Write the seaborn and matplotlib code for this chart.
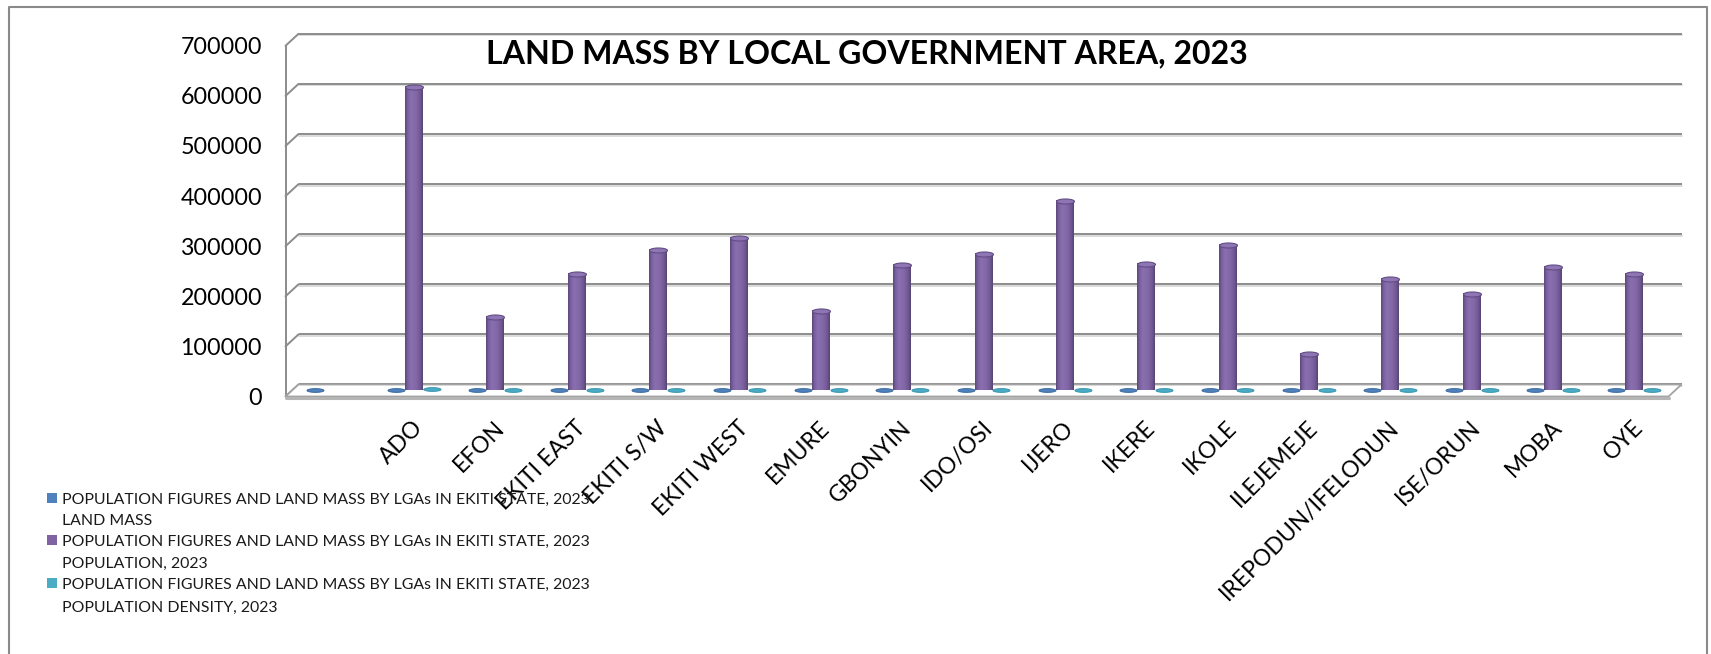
import numpy as np
import pandas as pd
import matplotlib
matplotlib.use("Agg")
import matplotlib.pyplot as plt
import matplotlib.transforms as mtrans
from matplotlib.patches import Polygon, Rectangle
from matplotlib.lines import Line2D
from matplotlib.colors import LinearSegmentedColormap, to_hex
import seaborn as sns

# ---------------- data ----------------
lgas = ["", "ADO", "EFON", "EKITI EAST", "EKITI S/W", "EKITI WEST", "EMURE",
        "GBONYIN", "IDO/OSI", "IJERO", "IKERE", "IKOLE", "ILEJEMEJE",
        "IREPODUN/IFELODUN", "ISE/ORUN", "MOBA", "OYE"]
land_mass = [0, 293, 232, 325, 382, 355, 290, 397, 295, 370, 264, 321, 95,
             221, 198, 216, 543]
population = [np.nan, 606000, 147000, 233000, 280000, 304000, 159000, 251000,
              272000, 378000, 252000, 290000, 73500, 223000, 193000, 246500,
              233000]
density = [np.nan, 2068, 634, 717, 733, 856, 548, 632, 922, 1022, 955, 903,
           774, 1009, 975, 1141, 429]
series_names = [
    "POPULATION FIGURES AND LAND MASS BY LGAs IN EKITI STATE, 2023\nLAND MASS",
    "POPULATION FIGURES AND LAND MASS BY LGAs IN EKITI STATE, 2023\nPOPULATION, 2023",
    "POPULATION FIGURES AND LAND MASS BY LGAs IN EKITI STATE, 2023\nPOPULATION DENSITY, 2023",
]
series_colors = ["#4F81BD", "#8064A2", "#4BACC6"]
edge_colors = ["#3A6A9C", "#624C84", "#3793AC"]
yticks = [0, 100000, 200000, 300000, 400000, 500000, 600000, 700000]
title = "LAND MASS BY LOCAL GOVERNMENT AREA, 2023"

# ---------------- style ----------------
sns.set_style("white")
plt.rcParams["font.family"] = ["Lato", "DejaVu Sans"]

W, H, DPI = 1711, 654, 100
fig = plt.figure(figsize=(W / DPI, H / DPI), dpi=DPI)
fig.patch.set_facecolor("white")


def fx(px):
    return px / W


def fy(py):
    return 1 - py / H


ax_left, ax_right, ax_top, ax_bot = 292, 1675, 39.8, 390.5
ax = fig.add_axes([fx(ax_left), fy(ax_bot), (ax_right - ax_left) / W,
                   (ax_bot - ax_top) / H])

rows = []
for name, vals in zip(series_names, [land_mass, population, density]):
    for lga, v in zip(lgas, vals):
        if v is not None and np.isfinite(v):
            rows.append({"LGA": lga, "Series": name, "Value": v})
df = pd.DataFrame(rows)

sns.barplot(data=df, x="LGA", y="Value", hue="Series", order=lgas,
            hue_order=series_names, palette=series_colors, saturation=1,
            width=0.66, errorbar=None, legend=False, ax=ax, zorder=3,
            linewidth=0)

# identify containers by colour
cont_by_series = {}
for cont in ax.containers:
    if len(cont.patches) == 0:
        continue
    col = to_hex(cont.patches[0].get_facecolor())
    for i, c in enumerate(series_colors):
        if to_hex(c) == col:
            cont_by_series[i] = cont

# cylinder shading for the population bars
cyl = LinearSegmentedColormap.from_list(
    "cyl", [(0.0, "#594676"), (0.14, "#7A60A0"), (0.35, "#8A70B0"),
            (0.65, "#8266A6"), (0.87, "#6E5791"), (1.0, "#564370")])
grad = np.linspace(0, 1, 64).reshape(1, -1)
if 1 in cont_by_series:
    for bar in cont_by_series[1].patches:
        h = bar.get_height()
        if not np.isfinite(h) or h <= 0:
            continue
        x0, w = bar.get_x(), bar.get_width()
        ax.imshow(grad, extent=[x0, x0 + w, 0, h], aspect="auto", cmap=cyl,
                  interpolation="bicubic", zorder=3.2)

# elliptical caps / discs
t = np.linspace(0, 2 * np.pi, 80)
cap_ell = np.column_stack([np.cos(t), 0.28 * np.sin(t)])
disc_ell = np.column_stack([np.cos(t), 0.22 * np.sin(t)])
cap_faces = ["#4F81BD", "#8E76B4", "#4BACC6"]
for i, cont in cont_by_series.items():
    xs = [b.get_x() + b.get_width() / 2 for b in cont.patches]
    hs = [b.get_height() for b in cont.patches]
    if i == 1:
        ax.scatter(xs, hs, marker=cap_ell, s=12.9 ** 2, c=cap_faces[i],
                   edgecolors=edge_colors[i], linewidths=0.8, zorder=4,
                   clip_on=False)
    else:
        ax.scatter(xs, hs, marker=disc_ell, s=12.2 ** 2, c=cap_faces[i],
                   edgecolors=edge_colors[i], linewidths=0.7, zorder=4,
                   clip_on=False)

ax.set_xlim(-0.5, len(lgas) - 0.5)
ax.set_ylim(0, 700000)
ax.set_xlabel("")
ax.set_ylabel("")
for s in ax.spines.values():
    s.set_visible(False)
ax.grid(False)
ax.patch.set_alpha(0)

# ---------------- pseudo 3D walls ----------------
DX, DY = 6.5 / DPI, 6.0 / DPI
back = mtrans.ScaledTranslation(DX, DY, fig.dpi_scale_trans)
front = mtrans.ScaledTranslation(-DX, -DY, fig.dpi_scale_trans)
ident = mtrans.IdentityTransform()
xmin, xmax = ax.get_xlim()
grid_col = "#8C8C8C"
for v in yticks:
    ax.plot([xmin, xmax], [v, v], color=grid_col, lw=1.4,
            transform=ax.transData + back, clip_on=False, zorder=1,
            solid_capstyle="butt")
    ax.plot([xmin, xmax], [v, v], color="#D4D4D4", lw=1.2,
            transform=ax.transData + back + mtrans.ScaledTranslation(0, -1.6 / DPI, fig.dpi_scale_trans),
            clip_on=False, zorder=0.9)
    pf = (ax.transData + front).transform((xmin, v))
    pb = (ax.transData + back).transform((xmin, v))
    ax.plot([pf[0], pb[0]], [pf[1], pb[1]], color=grid_col, lw=1.4,
            transform=ident, clip_on=False, zorder=1)
p0 = (ax.transData + front).transform((xmin, yticks[0]))
p1 = (ax.transData + front).transform((xmin, yticks[-1]))
ax.plot([p0[0], p1[0]], [p0[1], p1[1]], color=grid_col, lw=1.4,
        transform=ident, clip_on=False, zorder=1)

bl = (ax.transData + back).transform((xmin, 0))
br = (ax.transData + back).transform((xmax, 0))
fr = (ax.transData + front).transform((xmax, 0))
fl = (ax.transData + front).transform((xmin, 0))
floor = Polygon([bl, br, fr, fl], closed=True, facecolor="white",
                edgecolor="#A3A3A3", lw=1.3, transform=ident, clip_on=False,
                zorder=2)
ax.add_patch(floor)
ax.plot([fl[0], fr[0]], [fl[1] - 1.5, fr[1] - 1.5], color="#B5B5B5", lw=2.2,
        transform=ident, clip_on=False, zorder=2.1)

# ---------------- text sizing ----------------
fig.canvas.draw()
renderer = fig.canvas.get_renderer()


def size_for(s, target, weight="normal", base=20.0):
    tt = fig.text(0, 0, s, fontsize=base, fontweight=weight)
    w = tt.get_window_extent(renderer).width
    tt.remove()
    return base * target / w


title_fs = size_for(title, 762, "bold")
ytick_fs = size_for("700000", 81)
xtick_fs = size_for("IREPODUN/IFELODUN", 242)
leg_fs = size_for(series_names[0].split("\n")[0], 527)

# ---------------- ticks ----------------
ax.set_yticks(yticks)
ax.set_yticklabels([str(v) for v in yticks])
ax.set_xticks(range(len(lgas)))
ax.set_xticklabels(lgas)
ax.tick_params(axis="y", length=0, pad=30 * 0.72, labelsize=ytick_fs,
               labelcolor="black")
ax.tick_params(axis="x", length=0, pad=19, labelsize=xtick_fs,
               labelcolor="black")
yoff = mtrans.ScaledTranslation(0, -6 / DPI, fig.dpi_scale_trans)
for lab in ax.get_yticklabels():
    lab.set_transform(lab.get_transform() + yoff)
xoff = mtrans.ScaledTranslation(-2 / DPI, 0, fig.dpi_scale_trans)
for lab in ax.get_xticklabels():
    lab.set_rotation(45)
    lab.set_ha("right")
    lab.set_va("top")
    lab.set_rotation_mode("anchor")
    lab.set_transform(lab.get_transform() + xoff)

# ---------------- title ----------------
fig.text(fx(867), fy(63.5), title, ha="center", va="baseline",
         fontsize=title_fs, fontweight="bold", color="black")

# ---------------- legend ----------------
em_px = leg_fs * DPI / 72
line_centers = [[498, 519], [540, 562], [583, 606]]
for i, name in enumerate(series_names):
    c1 = line_centers[i][0]
    fig.add_artist(Rectangle((fx(47), fy(c1 + 5)), 10 / W, 10 / H,
                             transform=fig.transFigure,
                             facecolor=series_colors[i], edgecolor="none"))
    for j, line in enumerate(name.split("\n")):
        cy = line_centers[i][j]
        fig.text(fx(62), fy(cy + 0.36 * em_px), line, ha="left",
                 va="baseline", fontsize=leg_fs, color="#1A1A1A")

# ---------------- outer border ----------------
fig.add_artist(Line2D([fx(9), fx(9), fx(1707), fx(1707)],
                      [0, fy(7), fy(7), 0], transform=fig.transFigure,
                      color="#8A8A8A", lw=1.5))

fig.savefig("out.png", dpi=DPI, facecolor="white")
